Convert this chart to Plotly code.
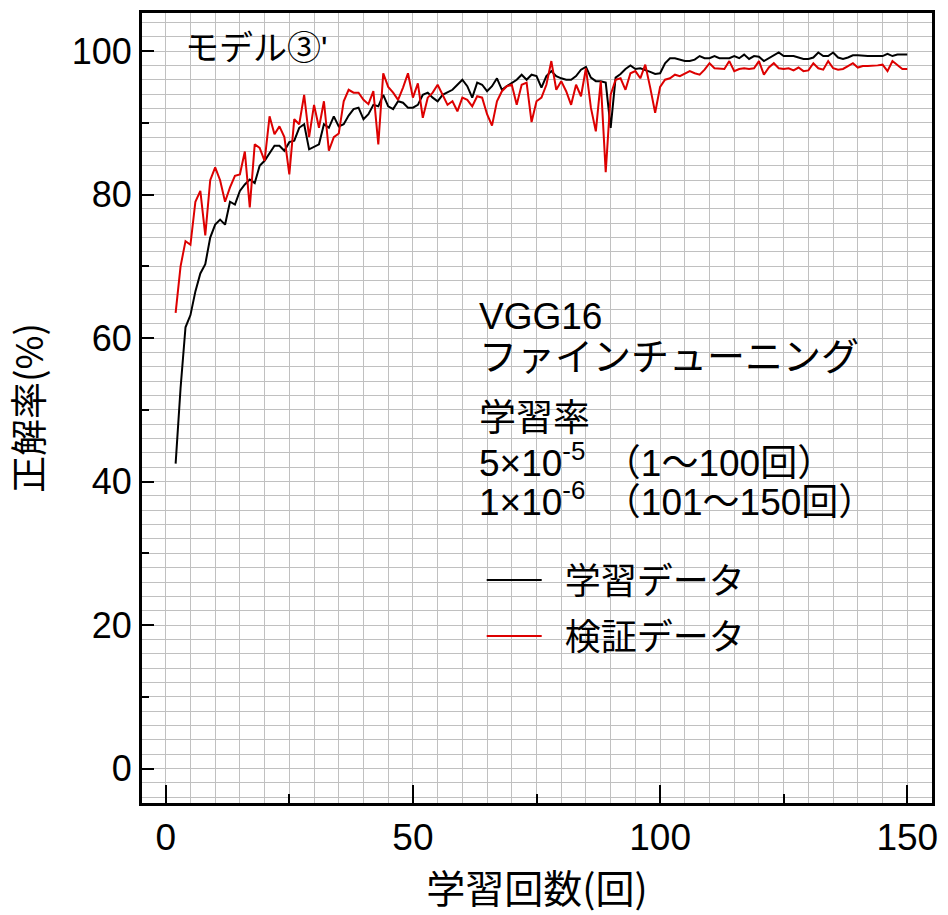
import plotly.graph_objects as go

# ---- data ----
epochs = list(range(2, 151))

train_acc = [
    42.5, 53.0, 61.5, 63.2, 66.5, 69.0, 70.3, 74.0, 75.8,            # 2-10
    76.5, 75.8, 79.0, 78.6, 80.5, 81.4, 82.1, 81.6, 84.0, 84.7,      # 11-20
    85.8, 86.8, 86.8, 86.1, 87.3, 87.5, 89.3, 89.8, 86.3, 86.6,      # 21-30
    87.0, 89.8, 89.3, 90.9, 89.5, 89.8, 91.0, 91.9, 92.1, 90.5,      # 31-40
    91.2, 92.5, 92.3, 93.9, 92.3, 91.9, 93.0, 92.8, 92.1, 92.1,      # 41-50
    92.5, 93.9, 94.2, 93.5, 93.0, 93.9, 94.2, 94.6, 95.3, 96.0,      # 51-60
    95.1, 93.5, 95.6, 95.3, 94.4, 95.1, 96.2, 94.6, 95.1, 95.6,      # 61-70
    96.0, 96.7, 96.0, 96.7, 96.5, 94.9, 96.5, 97.2, 96.5, 96.2,      # 71-80
    96.0, 96.0, 96.5, 97.4, 97.8, 96.3, 95.8, 95.8, 95.6, 89.3,      # 81-90
    96.3, 96.8, 97.5, 98.0, 97.5, 97.6, 97.4, 97.1, 96.8, 96.9,      # 91-100
    98.3, 99.0, 99.0, 98.8, 98.6, 98.6, 98.8, 99.3, 99.0, 99.0,      # 101-110
    99.3, 99.0, 99.0, 99.0, 99.3, 99.0, 99.5, 98.9, 99.3, 99.2,      # 111-120
    98.6, 99.0, 99.3, 99.8, 99.3, 99.3, 99.3, 99.1, 98.9, 98.9,      # 121-130
    99.1, 99.8, 99.3, 99.3, 99.8, 99.1, 98.9, 99.1, 99.4, 99.4,      # 131-140
    99.3, 99.3, 99.3, 99.3, 99.3, 99.6, 99.3, 99.5, 99.5, 99.5,      # 141-150
]

val_acc = [
    63.5, 70.0, 73.5, 73.0, 79.0, 80.5, 74.3, 82.0, 83.8,            # 2-10
    82.0, 79.0, 81.0, 82.6, 82.8, 86.0, 78.2, 87.0, 86.5, 84.7,      # 11-20
    90.9, 88.4, 89.5, 88.0, 82.8, 90.5, 89.8, 93.9, 88.0, 92.5,      # 21-30
    89.3, 93.0, 86.1, 88.0, 88.5, 93.0, 94.6, 94.2, 94.2, 93.2,      # 31-40
    92.6, 94.4, 87.0, 96.9, 95.0, 94.2, 93.2, 94.9, 96.9, 93.5,      # 41-50
    95.5, 90.7, 93.5, 94.2, 95.3, 93.9, 92.5, 93.0, 91.6, 93.5,      # 51-60
    93.2, 92.3, 93.7, 93.5, 91.2, 89.6, 93.0, 94.4, 95.1, 95.3,      # 61-70
    92.5, 95.3, 95.6, 90.1, 93.0, 93.5, 95.3, 98.6, 94.6, 95.8,      # 71-80
    94.4, 92.5, 95.3, 93.7, 97.6, 92.1, 88.8, 95.8, 83.1, 93.9,      # 81-90
    96.0, 96.2, 94.6, 96.9, 97.2, 96.2, 98.1, 94.9, 91.4, 95.0,      # 91-100
    96.0, 96.2, 96.7, 96.5, 96.9, 97.2, 96.9, 96.7, 97.4, 98.3,      # 101-110
    97.6, 97.5, 97.5, 98.6, 97.2, 97.5, 97.6, 97.5, 97.6, 98.6,      # 111-120
    96.7, 97.7, 98.3, 97.6, 97.5, 97.6, 97.3, 97.7, 97.2, 97.3,      # 121-130
    98.3, 97.6, 97.4, 98.6, 97.6, 97.4, 97.5, 97.9, 98.3, 97.7,      # 131-140
    97.9, 97.9, 97.9, 98.0, 98.1, 97.2, 98.6, 98.0, 97.5, 97.5,      # 141-150
]

series_names = ["学習データ", "検証データ"]
x_major_ticks = [0, 50, 100, 150]
x_minor_ticks = [25, 75, 125]
y_major_ticks = [0, 20, 40, 60, 80, 100]
y_minor_ticks = [10, 30, 50, 70, 90]
x_title = "学習回数(回)"
y_title = "正解率(%)"

X_RANGE = [-4.8, 155]
Y_RANGE = [-4.8, 105.3]
GRID = "#c0c0c0"
JP = "Noto Sans CJK JP"
NUM = "Liberation Sans, Arial, Noto Sans CJK JP"

fig = go.Figure()
fig.add_trace(go.Scatter(x=epochs, y=train_acc, mode="lines", name="\u2002" + series_names[0],
                         line=dict(color="#000000", width=2), legendgroup="a"))
fig.add_trace(go.Scatter(x=epochs, y=val_acc, mode="lines", name="\u2002" + series_names[1],
                         line=dict(color="#dd0000", width=2), legendgroup="b"))
# empty trace to hold the overlay grid axes
fig.add_trace(go.Scatter(x=[], y=[], xaxis="x2", yaxis="y2", showlegend=False, hoverinfo="skip"))

tick_common = dict(ticks="inside", tickwidth=2, tickcolor="black",
                   showline=True, linewidth=3, linecolor="black", mirror=True,
                   zeroline=False, showgrid=False)

fig.update_layout(
    width=948, height=915,
    margin=dict(l=142, r=13, t=10, b=112),
    paper_bgcolor="white", plot_bgcolor="white",
    xaxis=dict(range=X_RANGE, tickmode="array", tickvals=x_major_ticks, ticklen=18,
               minor=dict(tickmode="array", tickvals=x_minor_ticks, ticks="inside",
                          ticklen=9, tickwidth=2, tickcolor="black", showgrid=False),
               tickfont=dict(family=NUM, size=37, color="black"),
               title=dict(text=x_title, font=dict(family=JP, size=39, color="black"), standoff=18),
               **tick_common),
    yaxis=dict(range=Y_RANGE, tickmode="array", tickvals=y_major_ticks, ticklen=12,
               minor=dict(tickmode="array", tickvals=y_minor_ticks, ticks="inside",
                          ticklen=7, tickwidth=2, tickcolor="black", showgrid=False),
               tickfont=dict(family=NUM, size=36, color="black"),
               title=dict(text=y_title, font=dict(family=JP, size=37, color="black"), standoff=18),
               **tick_common),
    xaxis2=dict(overlaying="x", anchor="y2", range=X_RANGE, tick0=0, dtick=5,
                showgrid=True, gridcolor=GRID, gridwidth=1, ticks="",
                showticklabels=False, showline=False, zeroline=False),
    yaxis2=dict(overlaying="y", anchor="x2", range=Y_RANGE, tick0=0, dtick=2,
                showgrid=True, gridcolor=GRID, gridwidth=1, ticks="",
                showticklabels=False, showline=False, zeroline=False),
    showlegend=True,
    legend=dict(x=0.43, y=0.32, xanchor="left", yanchor="top",
                bgcolor="rgba(0,0,0,0)", font=dict(family=JP, size=36, color="black"),
                traceorder="grouped", tracegroupgap=6, itemwidth=55),
)

def px_to_paper(px, py):
    return (px - 142) / 793, (803 - py) / 793

annots = [
    ("モデル③'", 183, 45, 34),
    ("VGG16", 478, 315, 37),
    ("ファインチューニング", 478, 355, 38),
    ("学習率", 478, 417, 37),
    ("5×10<sup>-5</sup>　（1～100回）", 478, 459, 37),
    ("1×10<sup>-6</sup>　（101～150回）", 478, 498, 37),
]
for text, px, py, sz in annots:
    ax, ay = px_to_paper(px, py)
    fig.add_annotation(text=text, x=ax, y=ay, xref="paper", yref="paper",
                       xanchor="left", yanchor="middle", showarrow=False,
                       font=dict(family=NUM, size=sz, color="black"))

fig.write_html("out.html")
